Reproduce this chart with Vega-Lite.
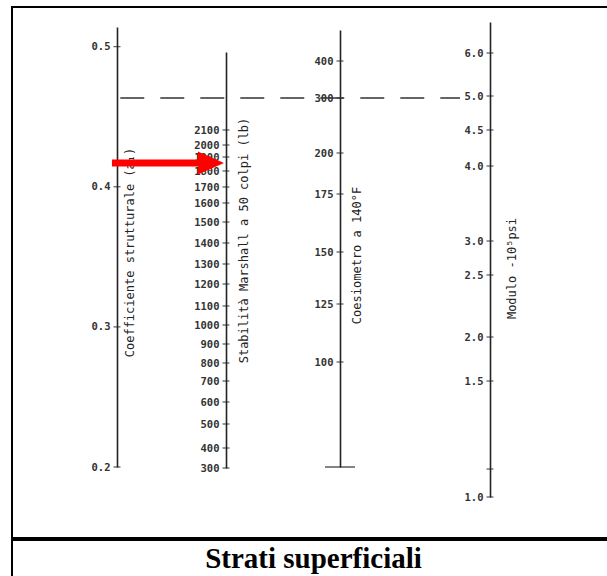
{
  "$schema": "https://vega.github.io/schema/vega-lite/v6.json",
  "padding": {"left": 11, "top": 6, "right": 0, "bottom": 0},
  "background": "white",
  "config": {
    "view": {"stroke": "black", "strokeWidth": 2},
    "axis": {
      "grid": false,
      "ticks": false,
      "labelFont": "DejaVu Sans Mono",
      "labelFontSize": 10.5,
      "labelFontWeight": "bold",
      "labelColor": "#333333",
      "labelPadding": 7,
      "labelOverlap": false,
      "labelBaseline": "middle",
      "domainColor": "#222222",
      "domainWidth": 1.6,
      "titleFont": "DejaVu Sans Mono",
      "titleFontSize": 12,
      "titleFontWeight": "normal",
      "titleColor": "#222222",
      "titleAngle": 270,
      "titleAlign": "center",
      "titleBaseline": "middle",
      "orient": "left"
    }
  },
  "datasets": {
    "coeff": [
      {"axis_no": 1, "value": 0.2},
      {"axis_no": 1, "value": 0.3},
      {"axis_no": 1, "value": 0.4},
      {"axis_no": 1, "value": 0.5}
    ],
    "marshall": [
      {"axis_no": 2, "value": 300},
      {"axis_no": 2, "value": 400},
      {"axis_no": 2, "value": 500},
      {"axis_no": 2, "value": 600},
      {"axis_no": 2, "value": 700},
      {"axis_no": 2, "value": 800},
      {"axis_no": 2, "value": 900},
      {"axis_no": 2, "value": 1000},
      {"axis_no": 2, "value": 1100},
      {"axis_no": 2, "value": 1200},
      {"axis_no": 2, "value": 1300},
      {"axis_no": 2, "value": 1400},
      {"axis_no": 2, "value": 1500},
      {"axis_no": 2, "value": 1600},
      {"axis_no": 2, "value": 1700},
      {"axis_no": 2, "value": 1800},
      {"axis_no": 2, "value": 1900},
      {"axis_no": 2, "value": 2000},
      {"axis_no": 2, "value": 2100}
    ],
    "coes": [
      {"axis_no": 3, "value": 100},
      {"axis_no": 3, "value": 125},
      {"axis_no": 3, "value": 150},
      {"axis_no": 3, "value": 175},
      {"axis_no": 3, "value": 200},
      {"axis_no": 3, "value": 300},
      {"axis_no": 3, "value": 400}
    ],
    "coes_base": [{"axis_no": 3, "value": 50}],
    "mod": [
      {"axis_no": 4, "value": 1.0},
      {"axis_no": 4, "value": 1.1},
      {"axis_no": 4, "value": 1.5},
      {"axis_no": 4, "value": 2.0},
      {"axis_no": 4, "value": 2.5},
      {"axis_no": 4, "value": 3.0},
      {"axis_no": 4, "value": 4.0},
      {"axis_no": 4, "value": 4.5},
      {"axis_no": 4, "value": 5.0},
      {"axis_no": 4, "value": 6.0}
    ],
    "construction": [{"x_start": 1.03, "x_end": 3.8, "value": 300}],
    "arrow": [{"x_start": 0.952, "x_end": 1.8, "value": 1857}],
    "arrowhead": [{"x_tip": 1.862, "value": 1857}],
    "caption": [{"text": "Strati superficiali"}]
  },
  "spacing": 0,
  "vconcat": [
    {
      "width": 597,
      "height": 531,
      "resolve": {"scale": {"y": "independent"}, "axis": {"y": "independent"}},
      "layer": [
        {
          "data": {"name": "coeff"},
          "encoding": {
            "x": {"field": "axis_no", "type": "quantitative", "scale": {"domain": [0, 1, 2, 3, 4, 5], "range": [0, 105, 214, 328, 478, 597]}, "axis": null},
            "y": {
              "field": "value", "type": "quantitative",
              "scale": {"domain": [0.2, 0.514], "range": [460, 20]},
              "axis": {"orient": "left", "offset": -105, "values": [0.2, 0.3, 0.4, 0.5], "format": ".1f", "title": "Coefficiente strutturale (a₁)", "titleX": 12, "titleY": 245}
            }
          },
          "layer": [
            {"mark": {"type": "tick", "orient": "horizontal", "size": 7, "thickness": 1.3, "color": "#222222"}}
          ]
        },
        {
          "data": {"name": "marshall"},
          "encoding": {
            "x": {"field": "axis_no", "type": "quantitative", "scale": {"domain": [0, 1, 2, 3, 4, 5], "range": [0, 105, 214, 328, 478, 597]}, "axis": null},
            "y": {
              "field": "value", "type": "quantitative",
              "scale": {
                "domain": [300, 400, 500, 600, 700, 800, 900, 1000, 1100, 1200, 1300, 1400, 1500, 1600, 1700, 1800, 1900, 2000, 2100, 2700],
                "range": [461, 441, 417, 395, 374, 356, 337, 318, 299, 277, 257, 236, 215, 196, 180, 164, 150, 138, 123, 45]
              },
              "axis": {"orient": "left", "offset": -214, "values": [300, 400, 500, 600, 700, 800, 900, 1000, 1100, 1200, 1300, 1400, 1500, 1600, 1700, 1800, 1900, 2000, 2100], "format": "d", "title": "Stabilità Marshall a 50 colpi (lb)", "titleX": 17, "titleY": 233}
            }
          },
          "layer": [
            {"mark": {"type": "tick", "orient": "horizontal", "size": 7, "thickness": 1.3, "color": "#222222"}},
            {
              "data": {"name": "arrow"},
              "mark": {"type": "rule", "color": "#ff0000", "strokeWidth": 7},
              "encoding": {"x": {"field": "x_start", "type": "quantitative"}, "x2": {"field": "x_end"}, "y": {"field": "value", "type": "quantitative"}}
            },
            {
              "data": {"name": "arrowhead"},
              "mark": {"type": "point", "shape": "M-1,-0.88L1,0L-1,0.88Z", "filled": true, "opacity": 1, "color": "#ff0000", "size": 676, "strokeWidth": 0},
              "encoding": {"x": {"field": "x_tip", "type": "quantitative"}, "y": {"field": "value", "type": "quantitative"}}
            }
          ]
        },
        {
          "data": {"name": "coes"},
          "encoding": {
            "x": {"field": "axis_no", "type": "quantitative", "scale": {"domain": [0, 1, 2, 3, 4, 5], "range": [0, 105, 214, 328, 478, 597]}, "axis": null},
            "y": {
              "field": "value", "type": "quantitative",
              "scale": {"domain": [50, 100, 125, 150, 175, 200, 300, 400, 480], "range": [460, 355, 297, 245, 187, 146, 91, 54, 23]},
              "axis": {"orient": "left", "offset": -328, "values": [100, 125, 150, 175, 200, 300, 400], "format": "d", "title": "Coesiometro a 140°F", "titleX": 16, "titleY": 248}
            }
          },
          "layer": [
            {"mark": {"type": "tick", "orient": "horizontal", "size": 7, "thickness": 1.3, "color": "#222222"}},
            {
              "data": {"name": "coes_base"},
              "mark": {"type": "tick", "orient": "horizontal", "size": 30, "thickness": 1.6, "color": "#222222"}
            },
            {
              "data": {"name": "construction"},
              "mark": {"type": "rule", "color": "#333333", "strokeWidth": 1.6, "strokeDash": [24, 16]},
              "encoding": {"x": {"field": "x_start", "type": "quantitative"}, "x2": {"field": "x_end"}, "y": {"field": "value", "type": "quantitative"}}
            }
          ]
        },
        {
          "data": {"name": "mod"},
          "encoding": {
            "x": {"field": "axis_no", "type": "quantitative", "scale": {"domain": [0, 1, 2, 3, 4, 5], "range": [0, 105, 214, 328, 478, 597]}, "axis": null},
            "y": {
              "field": "value", "type": "quantitative",
              "scale": {"domain": [1.0, 1.1, 1.5, 2.0, 2.5, 3.0, 4.0, 4.5, 5.0, 6.0, 6.7], "range": [490, 462, 374, 330, 268, 234, 159, 123, 89, 46, 15]},
              "axis": {"orient": "left", "offset": -478, "values": [1.0, 1.5, 2.0, 2.5, 3.0, 4.0, 4.5, 5.0, 6.0], "format": ".1f", "title": "Modulo -10⁵psi", "titleX": 21, "titleY": 261}
            }
          },
          "layer": [
            {"mark": {"type": "tick", "orient": "horizontal", "size": 7, "thickness": 1.3, "color": "#222222"}}
          ]
        }
      ]
    },
    {
      "width": 597,
      "height": 39,
      "data": {"name": "caption"},
      "mark": {"type": "text", "font": "Liberation Serif", "fontSize": 29, "fontWeight": "bold", "color": "black", "dy": -1},
      "encoding": {
        "x": {"datum": 0.505, "type": "quantitative", "scale": {"domain": [0, 1]}, "axis": null},
        "y": {"datum": 0.5, "type": "quantitative", "scale": {"domain": [0, 1]}, "axis": null},
        "text": {"field": "text", "type": "nominal"}
      }
    }
  ]
}
